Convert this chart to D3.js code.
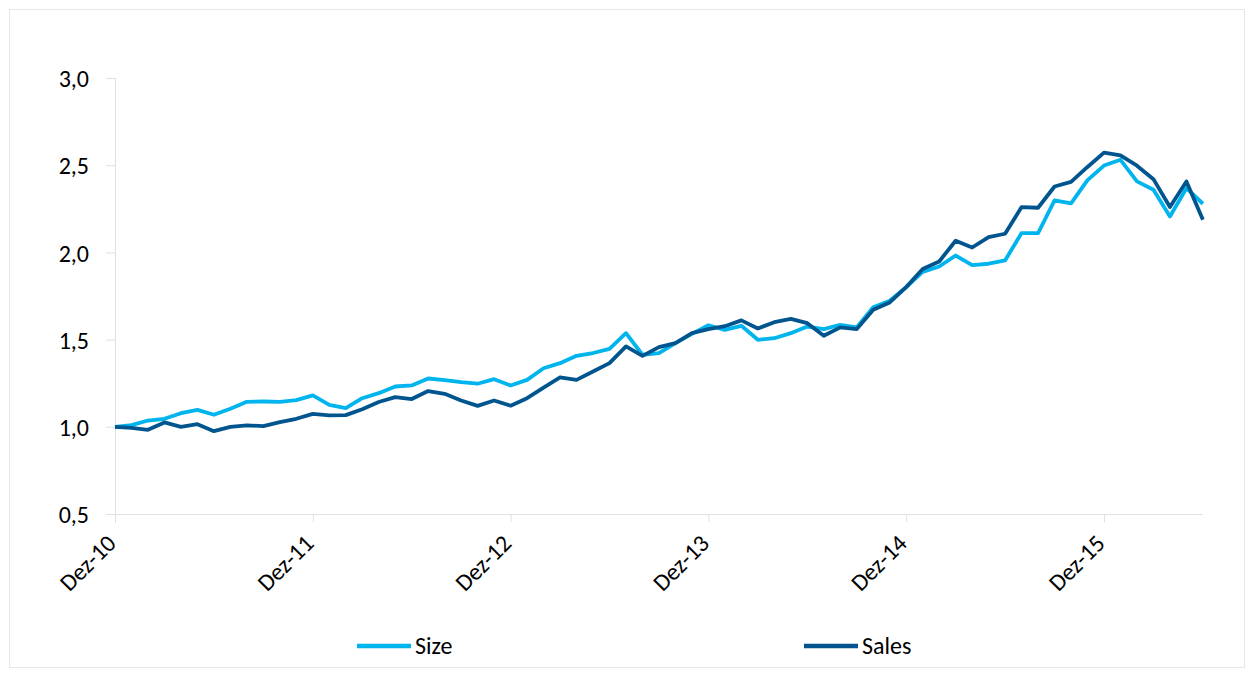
<!DOCTYPE html>
<html><head><meta charset="utf-8">
<script src="https://cdn.jsdelivr.net/npm/d3@7/dist/d3.min.js"></script>
<style>body{margin:0;background:#fff;}svg{display:block;}text{font-family:Carlito,Calibri,Lato,"Open Sans",sans-serif;}</style>
</head><body><svg id="c" width="1254" height="675"></svg>
<script>
const months = d3.range(67); // Dez-10 ... Jun-16, monthly index
const tickLabels = ["Dez-10","Dez-11","Dez-12","Dez-13","Dez-14","Dez-15"];
const tickIdx = [0,12,24,36,48,60];
const yTicks = [0.5,1.0,1.5,2.0,2.5,3.0];
const size = [1.000,1.010,1.036,1.046,1.078,1.097,1.069,1.103,1.143,1.145,1.143,1.153,1.180,1.126,1.107,1.164,1.193,1.231,1.237,1.277,1.268,1.256,1.247,1.273,1.237,1.269,1.336,1.365,1.407,1.423,1.447,1.537,1.413,1.423,1.480,1.533,1.582,1.556,1.579,1.499,1.508,1.537,1.575,1.560,1.585,1.570,1.686,1.723,1.801,1.888,1.919,1.982,1.927,1.935,1.954,2.111,2.111,2.298,2.281,2.414,2.498,2.531,2.407,2.359,2.206,2.368,2.279];
const sales = [1.000,0.994,0.983,1.025,1.000,1.015,0.975,1.000,1.008,1.004,1.027,1.046,1.074,1.065,1.067,1.101,1.142,1.170,1.159,1.205,1.189,1.151,1.120,1.151,1.121,1.164,1.225,1.283,1.269,1.317,1.365,1.461,1.407,1.457,1.480,1.537,1.560,1.577,1.610,1.564,1.600,1.619,1.594,1.522,1.570,1.560,1.671,1.713,1.801,1.905,1.948,2.067,2.028,2.088,2.107,2.260,2.256,2.378,2.404,2.490,2.572,2.556,2.497,2.420,2.260,2.407,2.187];
const seriesNames = ["Size","Sales"];
const colors = ["#00B4EE","#00558F"];

const svg = d3.select("#c");
svg.append("rect").attr("x",9.5).attr("y",9.5).attr("width",1235).attr("height",658).attr("fill","#fff").attr("stroke","#e6e6e6");

const x = d3.scaleLinear().domain([0,60]).range([115,1104]);
const y = d3.scaleLinear().domain([0.5,3.0]).range([514,78]);

// y axis
const yAxis = svg.append("g").attr("transform","translate(115,0)")
  .call(d3.axisLeft(y).tickValues(yTicks).tickSize(9).tickPadding(17).tickFormat(d=>d3.format(".1f")(d).replace(".",",")));
yAxis.select(".domain").attr("stroke","#e0e0e0").attr("d","M0.5,78V523");
yAxis.selectAll(".tick line").attr("stroke","#e0e0e0");
yAxis.selectAll(".tick text").attr("font-size",24).attr("fill","#000").attr("dy","0.36em");
// x axis
const xAxis = svg.append("g").attr("transform","translate(0,514)")
  .call(d3.axisBottom(x).tickValues(tickIdx).tickSize(8).tickSizeOuter(0).tickFormat((d,i)=>tickLabels[i]));
xAxis.select(".domain").attr("stroke","#e0e0e0").attr("d","M115,0.5H1203");
xAxis.selectAll(".tick line").attr("stroke","#e0e0e0");
xAxis.selectAll(".tick text").attr("font-size",24).attr("fill","#000")
  .attr("text-anchor","end").attr("dy",0).attr("dx",0)
  .attr("transform","translate(-6,23) rotate(-45)");

const line = d3.line().x((d,i)=>x(i)).y(d=>y(d));
[size,sales].forEach((s,k)=>{
  svg.append("path").datum(s).attr("d",line).attr("fill","none")
    .attr("stroke",colors[k]).attr("stroke-width",3.8).attr("stroke-linejoin","round");
});

// legend
const legX = [357,804];
seriesNames.forEach((n,k)=>{
  svg.append("line").attr("x1",legX[k]).attr("x2",legX[k]+54).attr("y1",646).attr("y2",646)
    .attr("stroke",colors[k]).attr("stroke-width",4.5);
  svg.append("text").attr("x",legX[k]+58).attr("y",654).attr("font-size",24).text(n);
});
</script></body></html>
